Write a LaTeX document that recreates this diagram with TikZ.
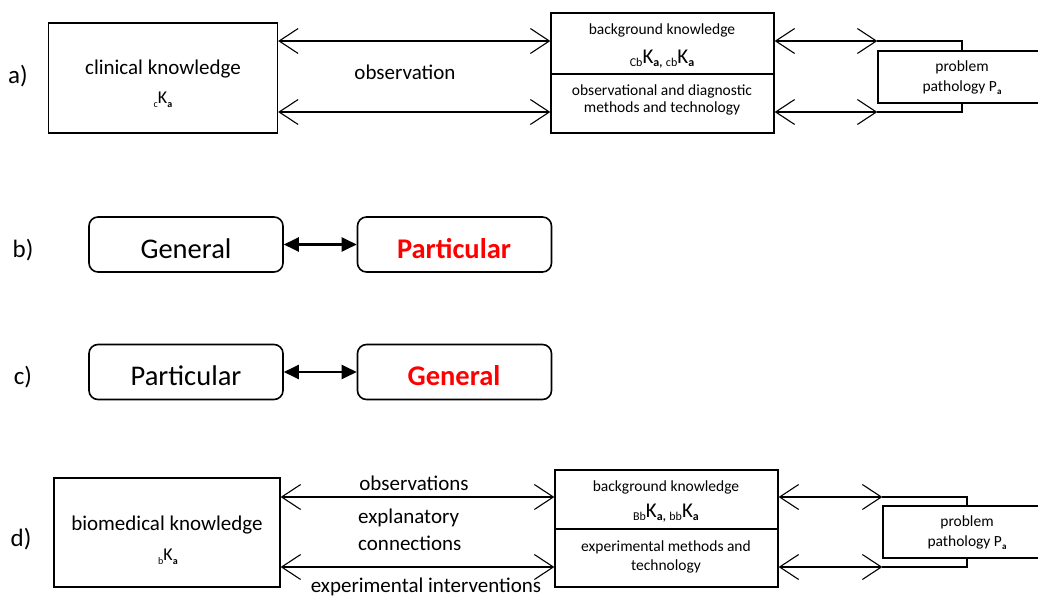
\documentclass[tikz,border=0pt]{standalone}
\usepackage{fontspec}
\setmainfont{Carlito}
\usetikzlibrary{arrows.meta}

\definecolor{hot}{RGB}{255,0,0}
\newcommand\fmain{\fontsize{21pt}{25pt}\selectfont}
\newcommand\fsmall{\fontsize{15.5pt}{18pt}\selectfont}
\newcommand\fbig{\fontsize{28.5pt}{32pt}\selectfont}
\newcommand\flab{\fontsize{25pt}{28pt}\selectfont}
% lowered small text: #1 drop, #2 size, #3 text
\newcommand\lowtext[3]{\raisebox{-#1}{\fontsize{#2}{#2}\selectfont #3}}

\begin{document}
\begin{tikzpicture}[x=1pt,y=-1pt,
  sqbox/.style={draw, line width=1.3pt, inner sep=0pt},
  rbox/.style={draw, line width=1.6pt, rounded corners=9pt, inner sep=0pt,
               minimum width=194pt, minimum height=55pt},
  txt/.style={inner sep=0pt, font=\fmain},
  small/.style={inner sep=0pt, font=\fsmall},
  lab/.style={inner sep=0pt, font=\flab},
  bigtxt/.style={inner sep=0pt, font=\fbig, anchor=base},
  link/.style={line width=1.1pt,
    {Straight Barb[length=19pt,width=25pt]}-{Straight Barb[length=19pt,width=25pt]}},
  wire/.style={line width=1.1pt},
  solidlink/.style={line width=2.2pt,
    {Triangle[length=15pt,width=14pt]}-{Triangle[length=15pt,width=14pt]}},
]
\useasboundingbox (0,0) rectangle (1038,596);
\clip (0,0) rectangle (1038,596);

% ---------- a) ----------
\node[lab] (la) at (18,76) {a)};
\node[sqbox, minimum width=229pt, minimum height=110pt] (ck) at (163,78) {};
\node[txt] (ckt) at (163,69) {clinical knowledge};
\node[txt] (ckk) at (163,100) {{\fontsize{18pt}{20pt}\selectfont\lowtext{4pt}{10pt}{c}K\lowtext{4pt}{10pt}{\bfseries a}}};

\node[sqbox, minimum width=223pt, minimum height=61pt] (bgA) at (662.5,43.5) {};
\node[sqbox, minimum width=223pt, minimum height=59pt] (mtA) at (662.5,103.5) {};
\node[small] (bgA1) at (662,30) {background knowledge};
\node[small] (bgA2) at (662,59) {{\fontsize{21pt}{24pt}\selectfont\lowtext{3pt}{12pt}{Cb}K\lowtext{3pt}{12pt}{\bfseries a,}\,\lowtext{3pt}{12pt}{cb}K\lowtext{3pt}{12pt}{\bfseries a}}};
\node[small] (mtA1) at (662,91) {observational and diagnostic};
\node[small] (mtA2) at (662,108) {methods and technology};

\node[sqbox, minimum width=168pt, minimum height=52pt] (pbA) at (962,77) {};
\node[small] (pbA1) at (962,67) {problem};
\node[small] (pbA2) at (962,88) {pathology P\lowtext{3pt}{9pt}{\bfseries a}};

\node[txt] (obsA) at (405,72) {observation};

\coordinate (yA1) at (0,41);
\coordinate (yA2) at (0,112);
\draw[link] (ck.east |- yA1) -- (bgA.west |- yA1);
\draw[link] (ck.east |- yA2) -- (mtA.west |- yA2);
\draw[link] (bgA.east |- yA1) -- (pbA.west |- yA1);
\draw[wire] (pbA.west |- yA1) -- (pbA.north |- yA1) -- (pbA.north);
\draw[link] (mtA.east |- yA2) -- (pbA.west |- yA2);
\draw[wire] (pbA.west |- yA2) -- (pbA.south |- yA2) -- (pbA.south);

% ---------- b) ----------
\node[lab] (lb) at (23,250) {b)};
\node[rbox] (genB) at (186,244.5) {};
\node[rbox] (parB) at (454.5,244.5) {};
\node[bigtxt] (genBt) at (186,258) {General};
\node[bigtxt, text=hot, font=\fbig\bfseries] (parBt) at (454,258) {Particular};
\draw[solidlink] (genB.east) -- (parB.west);

% ---------- c) ----------
\node[lab] (lc) at (23,377) {c)};
\node[rbox] (parC) at (186,372) {};
\node[rbox] (genC) at (454.5,372) {};
\node[bigtxt] (parCt) at (186,385) {Particular};
\node[bigtxt, text=hot, font=\fbig\bfseries] (genCt) at (454,385) {General};
\draw[solidlink] (parC.east) -- (genC.west);

% ---------- d) ----------
\node[lab] (ld) at (21,539) {d)};
\node[sqbox, minimum width=226pt, minimum height=109pt] (bk) at (167,532.5) {};
\node[txt] (bkt) at (167,525) {biomedical knowledge};
\node[txt] (bkk) at (168,557) {{\fontsize{18pt}{20pt}\selectfont\lowtext{4pt}{10pt}{b}K\lowtext{4pt}{10pt}{\bfseries a}}};

\node[sqbox, minimum width=223pt, minimum height=59pt] (bgD) at (666.5,499.5) {};
\node[sqbox, minimum width=223pt, minimum height=58pt] (mtD) at (666.5,558) {};
\node[small] (bgD1) at (666,487) {background knowledge};
\node[small] (bgD2) at (666,513) {{\fontsize{21pt}{24pt}\selectfont\lowtext{3pt}{12pt}{Bb}K\lowtext{3pt}{12pt}{\bfseries a,}\,\lowtext{3pt}{12pt}{bb}K\lowtext{3pt}{12pt}{\bfseries a}}};
\node[small] (mtD1) at (666,547) {experimental methods and};
\node[small] (mtD2) at (666,566) {technology};

\node[sqbox, minimum width=168pt, minimum height=52pt] (pbD) at (967,532) {};
\node[small] (pbD1) at (967,522) {problem};
\node[small] (pbD2) at (967,543) {pathology P\lowtext{3pt}{9pt}{\bfseries a}};

\node[txt] (obsD) at (414,483) {observations};
\node[txt, anchor=west] (exD1) at (358,518) {explanatory};
\node[txt, anchor=west] (exD2) at (358,543) {connections};
\node[txt] (intD) at (426,587) {experimental interventions};

\coordinate (yD1) at (0,497);
\coordinate (yD2) at (0,567);
\draw[link] (bk.east |- yD1) -- (bgD.west |- yD1);
\draw[link] (bk.east |- yD2) -- (mtD.west |- yD2);
\draw[link] (bgD.east |- yD1) -- (pbD.west |- yD1);
\draw[wire] (pbD.west |- yD1) -- (pbD.north |- yD1) -- (pbD.north);
\draw[link] (mtD.east |- yD2) -- (pbD.west |- yD2);
\draw[wire] (pbD.west |- yD2) -- (pbD.south |- yD2) -- (pbD.south);
\end{tikzpicture}
\end{document}
